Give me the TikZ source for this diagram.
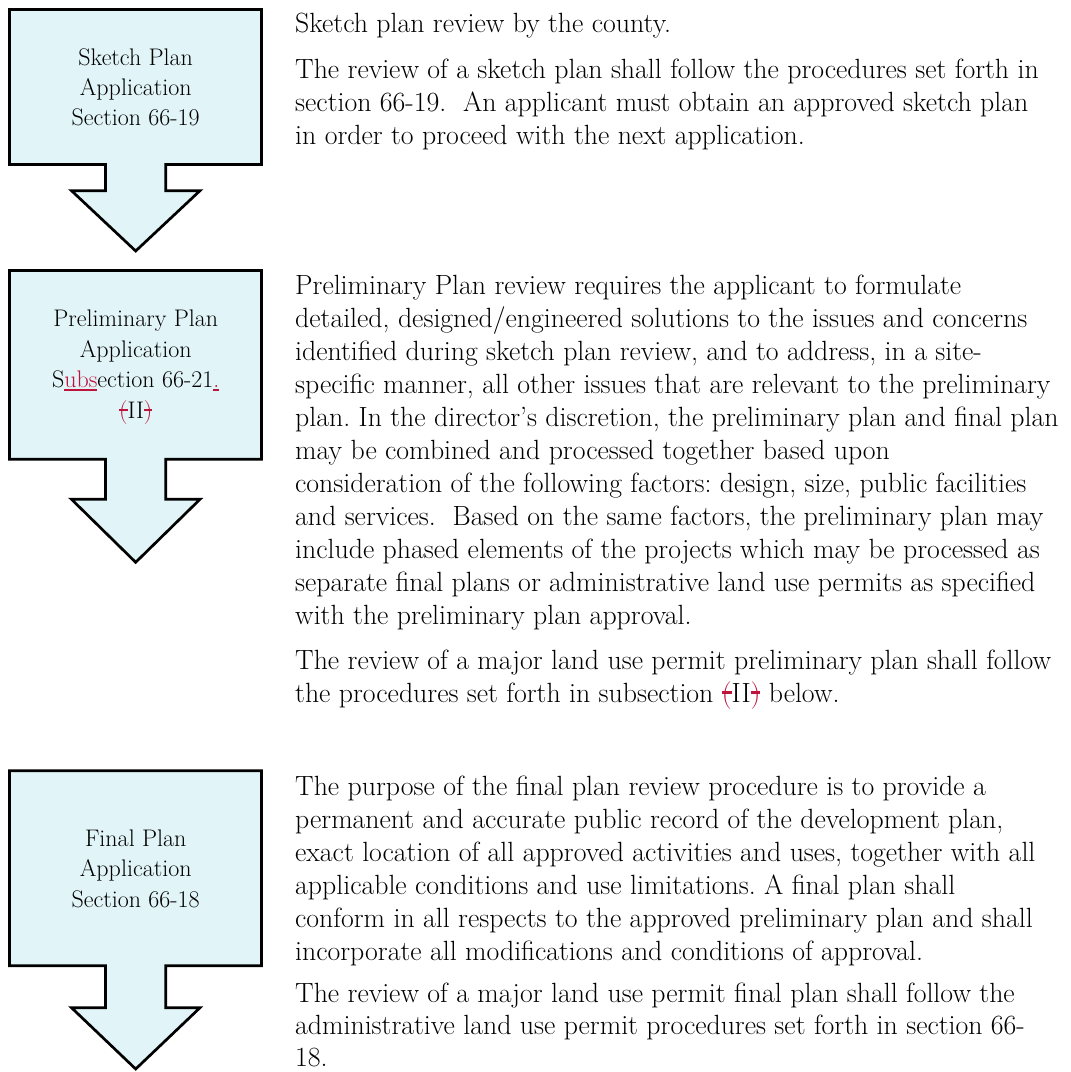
\documentclass[tikz,border=0pt]{standalone}
\usepackage{fontspec}
\usepackage{xcolor}
\definecolor{boxfill}{RGB}{225,244,247}
\definecolor{revred}{RGB}{190,20,60}
\frenchspacing
% revision marks: inserted text is underlined, deleted text struck through
\newcommand\inserted[1]{{\color{revred}\setbox0\hbox{#1}\rlap{\rule[-0.13em]{\wd0}{0.075em}}\box0}}
\newcommand\struck[1]{{\color{revred}\setbox0\hbox{#1}\rlap{\rule[0.3em]{\wd0}{0.08em}}\box0}}
% a box with a downward block arrow: top, bottom, arrow-head top, tip
\newcommand\arrowbox[4]{%
  \draw[boxline] (9.5,#1) -- (261.5,#1) -- (261.5,#2) -- (165.8,#2) -- (165.8,#3)
    -- (200,#3) -- (135.7,#4) -- (71.5,#3) -- (105.5,#3) -- (105.5,#2)
    -- (9.5,#2) -- cycle;}
% one node per text line: name, x, first baseline, line step, style, lines
\newcommand\textlines[6]{%
  \foreach \t [count=\i from 0] in {#6} {\node[#5] (#1-\i) at (#2,{#3+\i*#4}) {\t};}}
\begin{document}
\begin{tikzpicture}[x=1pt,y=-1pt,
  boxline/.style={draw=black, line width=2.7pt, fill=boxfill, line join=miter},
  bodytext/.style={font=\fontsize{27.8}{33}\selectfont, inner sep=0pt, anchor=base west},
  boxtext/.style={font=\fontsize{24}{30}\selectfont, inner sep=0pt, anchor=base}]
\useasboundingbox (0,0) rectangle (1071,1072);

% step boxes
\arrowbox{9.5}{164.5}{190.7}{251}
\arrowbox{270.5}{459.3}{499.3}{562.3}
\arrowbox{770.7}{965.7}{1007.7}{1069}

% step labels
\textlines{sketch}{135.7}{65.5}{30}{boxtext}{{Sketch Plan},{Application},{Section 66-19}}
\textlines{prelim}{135.7}{326.5}{30.5}{boxtext}{{Preliminary Plan},{Application},{S\inserted{ubs}ection 66-21\inserted{.}},{\struck{(}II\struck{)}}}
\textlines{final}{135.7}{846}{30.5}{boxtext}{{Final Plan},{Application},{Section 66-18}}

% descriptions
\textlines{sketchA}{295}{32}{33}{bodytext}{{Sketch plan review by the county.}}
\textlines{sketchB}{295}{78}{33}{bodytext}{%
  {The review of a sketch plan shall follow the procedures set forth in},
  {section 66-19.\ \ An applicant must obtain an approved sketch plan},
  {in order to proceed with the next application.}}
\textlines{prelimA}{295}{294}{33}{bodytext}{%
  {Preliminary Plan review requires the applicant to formulate},
  {detailed, designed/engineered solutions to the issues and concerns},
  {identified during sketch plan review, and to address, in a site-},
  {specific manner, all other issues that are relevant to the preliminary},
  {plan. In the director’s discretion, the preliminary plan and final plan},
  {may be combined and processed together based upon},
  {consideration of the following factors: design, size, public facilities},
  {and services.\ \ Based on the same factors, the preliminary plan may},
  {include phased elements of the projects which may be processed as},
  {separate final plans or administrative land use permits as specified},
  {with the preliminary plan approval.}}
\textlines{prelimB}{295}{669}{33}{bodytext}{%
  {The review of a major land use permit preliminary plan shall follow},
  {the procedures set forth in subsection \struck{(}II\struck{)} below.}}
\textlines{finalA}{295}{795}{33}{bodytext}{%
  {The purpose of the final plan review procedure is to provide a},
  {permanent and accurate public record of the development plan,},
  {exact location of all approved activities and uses, together with all},
  {applicable conditions and use limitations. A final plan shall},
  {conform in all respects to the approved preliminary plan and shall},
  {incorporate all modifications and conditions of approval.}}
\textlines{finalB}{295}{1002}{32}{bodytext}{%
  {The review of a major land use permit final plan shall follow the},
  {administrative land use permit procedures set forth in section 66-},
  {18.}}
\end{tikzpicture}
\end{document}
